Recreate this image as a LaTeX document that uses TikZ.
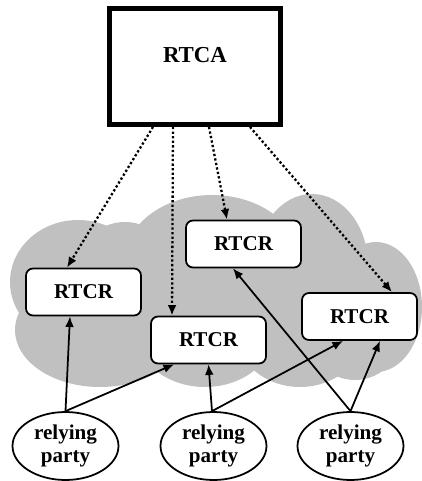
\documentclass[tikz,border=0pt]{standalone}
\usepackage{fontspec}
\setmainfont{Liberation Serif}
\usetikzlibrary{shapes.geometric,arrows.meta}
\definecolor{cloudgray}{RGB}{192,192,192}
\tikzset{
	rtcr/.style={draw, rectangle, rounded corners=4pt, line width=1pt, fill=white, minimum width=2.3cm, minimum height=0.94cm, font=\fontsize{12}{14}\selectfont\bfseries},
	party/.style={draw, ellipse, line width=1pt, fill=white, minimum width=2.12cm, minimum height=1.36cm, inner sep=0pt, align=center, font=\fontsize{12}{13}\selectfont\bfseries},
	issue/.style={-{Latex[length=6pt,width=5pt]}, line width=1.3pt, dash pattern=on 1.3pt off 1.3pt},
	rely/.style={-{Latex[length=6pt,width=5pt]}, line width=1pt},
}
\begin{document}
\begin{tikzpicture}[x=0.02cm, y=-0.02cm]
	\useasboundingbox (0,0) rectangle (422,481);

	% Cloud
	\fill[cloudgray] (78,282) ellipse [x radius=68, y radius=62];
	\fill[cloudgray] (125,258) ellipse [x radius=42, y radius=36];
	\fill[cloudgray] (100,330) ellipse [x radius=85, y radius=57];
	\fill[cloudgray] (212,262) ellipse [x radius=88, y radius=67];
	\fill[cloudgray] (205,330) ellipse [x radius=70, y radius=57];
	\fill[cloudgray] (312,265) ellipse [x radius=56, y radius=71];
	\fill[cloudgray] (300,330) ellipse [x radius=65, y radius=57];
	\fill[cloudgray] (376,307) ellipse [x radius=46, y radius=65];
	\fill[cloudgray] (355,325) ellipse [x radius=50, y radius=55];

	% RTCA
	\node[draw, line width=2.8pt, minimum width=3.42cm, minimum height=2.32cm, text depth=0.48cm, font=\fontsize{13}{15}\selectfont\bfseries] (rtca) at (195,66.5) {RTCA};

	% RTCRs
	\node[rtcr] (rtcr1) at (83.5,292) {RTCR};
	\node[rtcr] (rtcr2) at (208.5,340) {RTCR};
	\node[rtcr] (rtcr3) at (243.5,244) {RTCR};
	\node[rtcr] (rtcr4) at (359.5,316.5) {RTCR};

	% relying parties
	\node[party] (rp1) at (65.5,446) {relying\\party};
	\node[party] (rp2) at (213.5,446) {relying\\party};
	\node[party] (rp3) at (350.5,446) {relying\\party};

	\draw[issue] ([xshift=-0.84cm]rtca.south) -- ([xshift=-0.33cm]rtcr1.north);
	\draw[issue] ([xshift=-0.44cm]rtca.south) -- ([xshift=-0.73cm]rtcr2.north);
	\draw[issue] ([xshift=0.28cm]rtca.south) -- ([xshift=-0.33cm]rtcr3.north);
	\draw[issue] ([xshift=1.1cm]rtca.south) -- ([xshift=0.65cm]rtcr4.north);

	\draw[rely] (rp1.north) -- ([xshift=-0.27cm]rtcr1.south);
	\draw[rely] (rp1.north) -- ([xshift=-0.69cm]rtcr2.south);
	\draw[rely] ([xshift=-0.03cm]rp2.north) -- (rtcr2.south);
	\draw[rely] ([xshift=-0.03cm]rp2.north) -- ([xshift=-0.33cm]rtcr4.south);
	\draw[rely] (rp3.north) -- ([xshift=-0.21cm]rtcr3.south);
	\draw[rely] (rp3.north) -- ([xshift=0.41cm]rtcr4.south);

\end{tikzpicture}
\end{document}
